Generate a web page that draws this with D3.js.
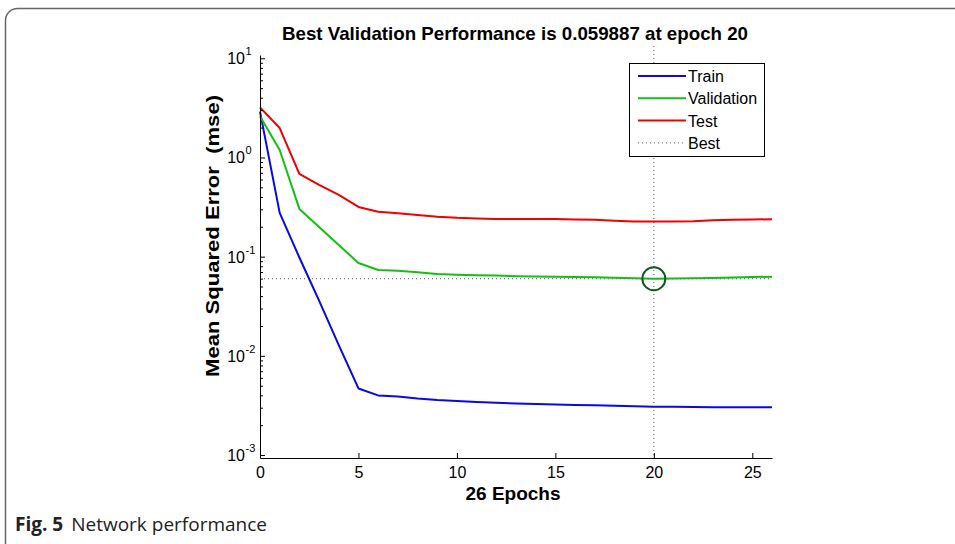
<!DOCTYPE html>
<html>
<head>
<meta charset="utf-8">
<script src="https://d3js.org/d3.v7.min.js"></script>
<style>
  body { margin: 0; background: #fff; }
  svg { display: block; }
</style>
</head>
<body>
<svg width="955" height="544"></svg>
<script>
    // values (epoch -> mse)
    const epochs = [0,1,2,3,4,5,6,7,8,9,10,11,12,13,14,15,16,17,18,19,20,21,22,23,24,25,26];
    const trainMse = [2.9, 0.276, 0.098, 0.036, 0.0128, 0.00469, 0.00399, 0.0039, 0.00371, 0.00359, 0.00351, 0.00343, 0.00337, 0.00331, 0.00327, 0.00323, 0.00319, 0.00317, 0.00313, 0.00311, 0.00307, 0.00306, 0.00305, 0.00304, 0.00304, 0.00303, 0.00303];
    const valMse = [2.6, 1.19, 0.303, 0.199, 0.131, 0.0864, 0.0734, 0.0722, 0.0696, 0.0669, 0.0658, 0.0649, 0.0644, 0.0636, 0.0631, 0.0626, 0.0623, 0.0619, 0.0612, 0.0606, 0.059887, 0.0602, 0.0606, 0.0610, 0.0617, 0.0622, 0.0628];
    const testMse = [3.2, 1.98, 0.682, 0.528, 0.419, 0.317, 0.284, 0.274, 0.263, 0.253, 0.246, 0.243, 0.240, 0.240, 0.240, 0.239, 0.237, 0.235, 0.230, 0.226, 0.226, 0.226, 0.228, 0.233, 0.236, 0.237, 0.238];
    const bestEpoch = 20;
    const bestPerf = 0.059887;

    const xTickValues = [0, 5, 10, 15, 20, 25];
    const yTickPowers = [-3, -2, -1, 0, 1];
    const legendNames = ["Train", "Validation", "Test", "Best"];
    const lineColors = ["#0808e8", "#12c012", "#f00000"];

    const font = "'Liberation Sans', Arial, sans-serif";

    const svg = d3.select("svg");

    // figure frame (rounded box, cut off on the right/bottom)
    svg.append("rect")
        .attr("x", 5.5).attr("y", 8.5)
        .attr("width", 980).attr("height", 560)
        .attr("rx", 12)
        .attr("fill", "none")
        .attr("stroke", "#666")
        .attr("stroke-width", 1.5);

    const x = d3.scaleLinear().domain([0, 26]).range([260, 772]);
    const y = d3.scaleLog().domain([Math.pow(10, -3.03), Math.pow(10, 1.033)]).range([458, 55]);

    const g = svg.append("g");

    // best lines
    g.append("line")
        .attr("x1", x(0)).attr("x2", x(26))
        .attr("y1", y(bestPerf)).attr("y2", y(bestPerf))
        .attr("stroke", "#555").attr("stroke-width", 1)
        .attr("stroke-dasharray", "1,3");
    g.append("line")
        .attr("x1", x(bestEpoch)).attr("x2", x(bestEpoch))
        .attr("y1", 46).attr("y2", y.range()[0])
        .attr("stroke", "#555").attr("stroke-width", 1)
        .attr("stroke-dasharray", "1,3");

    // series
    const series = [trainMse, valMse, testMse];
    const line = d3.line()
        .x((d, i) => x(epochs[i]))
        .y(d => y(d));

    series.forEach(function (s, i) {
        g.append("path")
            .datum(s)
            .attr("d", line)
            .attr("fill", "none")
            .attr("stroke", lineColors[i])
            .attr("stroke-width", 2)
            .attr("stroke-linejoin", "round");
    });

    // best point circle
    g.append("circle")
        .attr("cx", x(bestEpoch))
        .attr("cy", y(bestPerf))
        .attr("r", 11.5)
        .attr("fill", "none")
        .attr("stroke", "#0a5a1a")
        .attr("stroke-width", 2);

    // x axis (ticks point inward)
    const xAxis = svg.append("g")
        .attr("transform", "translate(0," + y.range()[0] + ")")
        .call(d3.axisBottom(x).tickValues(xTickValues).tickSizeInner(-5).tickSizeOuter(0).tickPadding(9));
    xAxis.select(".domain").attr("stroke", "#000");
    xAxis.selectAll("text")
        .attr("font-family", font).attr("font-size", 16).attr("fill", "#000");

    // y axis with log minor ticks
    const minor = [];
    yTickPowers.forEach(function (p) {
        for (let k = 2; k <= 9; k++) {
            const v = k * Math.pow(10, p);
            if (v <= y.domain()[1]) minor.push(v);
        }
    });
    const yAxis = svg.append("g")
        .attr("transform", "translate(" + x(0) + ",0)");
    yAxis.call(d3.axisLeft(y).tickValues(minor).tickSizeInner(-3).tickSizeOuter(0).tickFormat(""));
    yAxis.append("g")
        .call(d3.axisLeft(y).tickValues(yTickPowers.map(p => Math.pow(10, p))).tickSizeInner(-5).tickSizeOuter(0).tickFormat(""))
        .select(".domain").remove();
    yAxis.selectAll(".domain").attr("stroke", "#000");

    const yLabels = svg.append("g");
    yTickPowers.forEach(function (p) {
        yLabels.append("text")
            .attr("x", 245)
            .attr("y", y(Math.pow(10, p)) + 6)
            .attr("text-anchor", "end")
            .attr("font-family", font)
            .attr("font-size", 16)
            .attr("fill", "#000")
            .text("10");
        yLabels.append("text")
            .attr("x", 245.5)
            .attr("y", y(Math.pow(10, p)) - 3)
            .attr("font-family", font)
            .attr("font-size", 11)
            .attr("fill", "#000")
            .text(p);
    });

    // title and axis labels
    svg.append("text")
        .attr("x", 515).attr("y", 40)
        .attr("text-anchor", "middle")
        .attr("font-family", font).attr("font-weight", "bold").attr("font-size", 19)
        .attr("textLength", 466).attr("lengthAdjust", "spacingAndGlyphs")
        .text("Best Validation Performance is " + bestPerf + " at epoch " + bestEpoch);

    svg.append("text")
        .attr("x", 513).attr("y", 500)
        .attr("text-anchor", "middle")
        .attr("font-family", font).attr("font-weight", "bold").attr("font-size", 19)
        .text(epochs[epochs.length - 1] + " Epochs");

    svg.append("text")
        .attr("transform", "translate(219,236) rotate(-90)")
        .attr("text-anchor", "middle")
        .attr("font-family", font).attr("font-weight", "bold").attr("font-size", 19)
        .attr("textLength", 282).attr("lengthAdjust", "spacingAndGlyphs")
        .attr("xml:space", "preserve")
        .text("Mean Squared Error  (mse)");

    // legend
    const legend = svg.append("g").attr("transform", "translate(629,63)");
    legend.append("rect")
        .attr("x", 0.5).attr("y", 0.5)
        .attr("width", 135).attr("height", 93)
        .attr("fill", "#fff")
        .attr("stroke", "#000").attr("stroke-width", 1);
    legendNames.forEach(function (name, i) {
        const yy = 13 + i * 22.3;
        legend.append("line")
            .attr("x1", 9).attr("x2", 57)
            .attr("y1", yy).attr("y2", yy)
            .attr("stroke", i < 3 ? lineColors[i] : "#555")
            .attr("stroke-width", i < 3 ? 2 : 1)
            .attr("stroke-dasharray", i < 3 ? null : "1,3");
        legend.append("text")
            .attr("x", 59).attr("y", yy + 6)
            .attr("font-family", font).attr("font-size", 16)
            .text(name);
    });

    // caption
    const cap = svg.append("text")
        .attr("x", 15).attr("y", 531)
        .attr("font-family", "'Open Sans', 'Noto Sans', sans-serif")
        .attr("font-size", 19)
        .attr("fill", "#222");
    cap.append("tspan").attr("font-weight", "bold").text("Fig. 5");
    cap.append("tspan").attr("dx", 8).text("Network performance");
</script>
</body>
</html>
